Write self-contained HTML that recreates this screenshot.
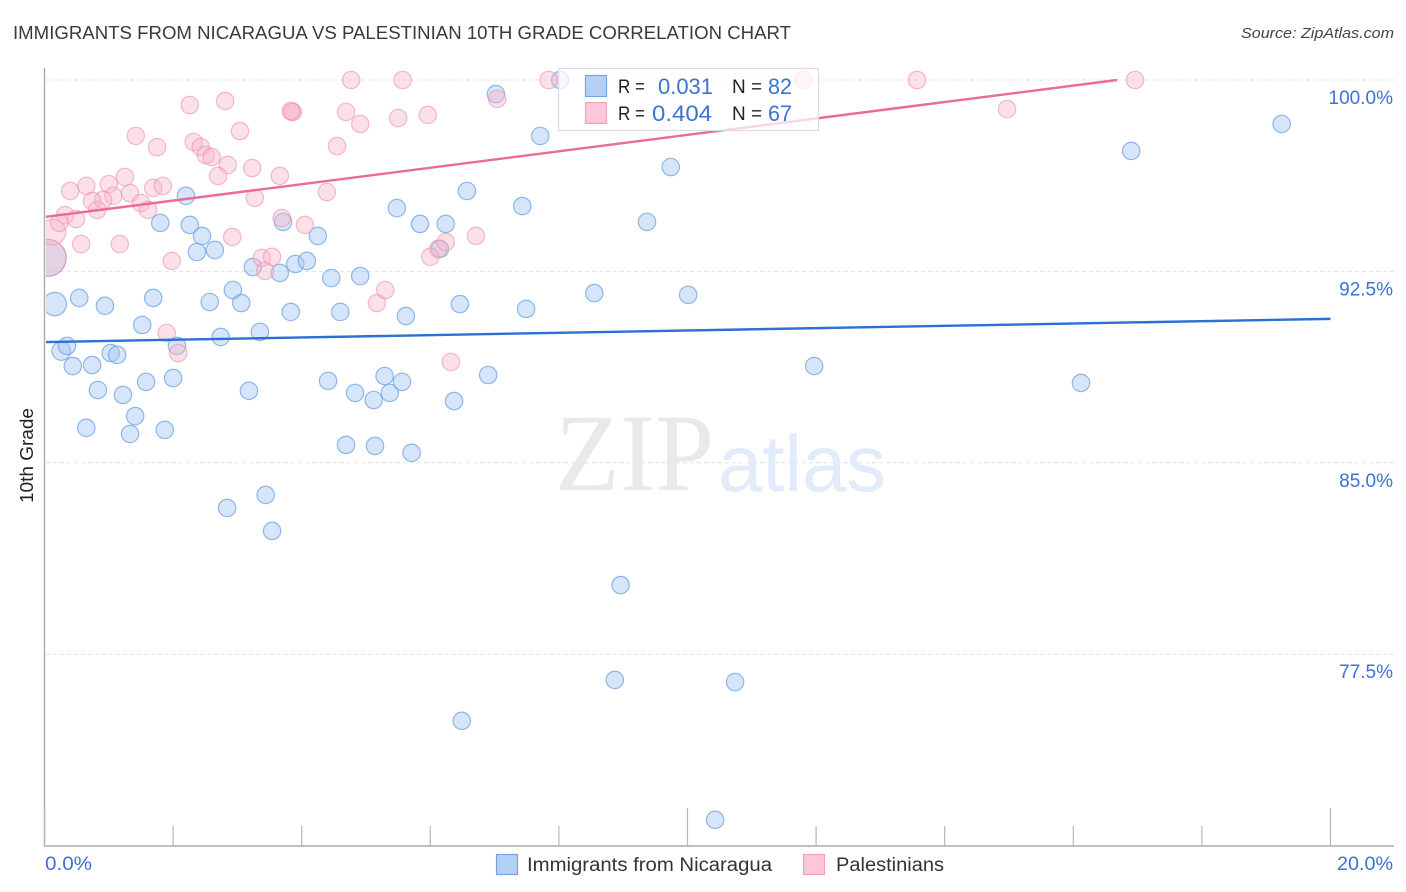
<!DOCTYPE html>
<html>
<head>
<meta charset="utf-8">
<title>Immigrants from Nicaragua vs Palestinian 10th Grade Correlation Chart</title>
<style>
html,body{margin:0;padding:0;background:#fff;width:1406px;height:892px;overflow:hidden}
svg{display:block}
text{font-family:"Liberation Sans",sans-serif}
</style>
</head>
<body>
<svg id="chart" width="1406" height="892" viewBox="0 0 1406 892" xmlns="http://www.w3.org/2000/svg">
  <defs><clipPath id="plot-clip"><rect x="46" y="60" width="1360" height="786"/></clipPath></defs>
  <text x="13" y="39" font-size="18.5" fill="#3a3a3a" textLength="778" lengthAdjust="spacingAndGlyphs">IMMIGRANTS FROM NICARAGUA VS PALESTINIAN 10TH GRADE CORRELATION CHART</text>
  <text x="1241" y="38" font-size="15" font-style="italic" fill="#444" textLength="153" lengthAdjust="spacingAndGlyphs">Source: ZipAtlas.com</text>
  <g id="grid"></g>
  <g>
    <text x="555" y="490" font-size="110" fill="#e9e9e9" textLength="159" lengthAdjust="spacingAndGlyphs" style="font-family:'Liberation Serif',serif">ZIP</text>
    <text x="718" y="491" font-size="80" fill="#e2ebf9" textLength="168" lengthAdjust="spacingAndGlyphs">atlas</text>
  </g>
  <g id="axes"></g>
  <g id="points" clip-path="url(#plot-clip)"></g>
  <g id="trends" clip-path="url(#plot-clip)"></g>
  <g>
    <rect x="558.5" y="68.5" width="260" height="62" fill="#fff" fill-opacity="0.72" stroke="#dcdcdc" stroke-width="1.2"/>
    <rect x="585.5" y="75.5" width="21" height="21" fill="#b5d0f5" stroke="#74a3e3" stroke-width="1.2"/>
    <rect x="585.5" y="102.5" width="21" height="21" fill="#fcc8d8" stroke="#f2a0bb" stroke-width="1.2"/>
    <text x="618" y="93" font-size="19" fill="#222" textLength="27" lengthAdjust="spacingAndGlyphs">R =</text>
    <text x="658" y="94" font-size="22" fill="#3b72d4" textLength="55" lengthAdjust="spacingAndGlyphs">0.031</text>
    <text x="732" y="93" font-size="19" fill="#222">N =</text>
    <text x="768" y="94" font-size="22" fill="#3b72d4" textLength="24" lengthAdjust="spacingAndGlyphs">82</text>
    <text x="618" y="120" font-size="19" fill="#222" textLength="27" lengthAdjust="spacingAndGlyphs">R =</text>
    <text x="652" y="121" font-size="22" fill="#3b72d4" textLength="60" lengthAdjust="spacingAndGlyphs">0.404</text>
    <text x="732" y="120" font-size="19" fill="#222">N =</text>
    <text x="768" y="121" font-size="22" fill="#3b72d4" textLength="24" lengthAdjust="spacingAndGlyphs">67</text>
  </g>
  <text transform="translate(33,455.5) rotate(-90)" font-size="18.5" fill="#222" text-anchor="middle" textLength="95" lengthAdjust="spacingAndGlyphs">10th Grade</text>
  <g>
    <g>
      <rect x="496.5" y="854.5" width="21" height="20" fill="#b5d0f5" stroke="#74a3e3" stroke-width="1.2"/>
      <text x="527" y="871" font-size="19" fill="#333" textLength="245" lengthAdjust="spacingAndGlyphs">Immigrants from Nicaragua</text>
    </g>
    <g>
      <rect x="803.5" y="854.5" width="21" height="20" fill="#fcc8d8" stroke="#f2a0bb" stroke-width="1.2"/>
      <text x="836" y="871" font-size="19" fill="#333" textLength="108" lengthAdjust="spacingAndGlyphs">Palestinians</text>
    </g>
  </g>
</svg>
<script>
const yTickValues = [100, 92.5, 85, 77.5];
const yTickLabels = ["100.0%", "92.5%", "85.0%", "77.5%"];
const xTickValues = [0, 2, 4, 6, 8, 10, 12, 14, 16, 18, 20];
const xMajorTicks = [0, 10, 20];
const xEndLabels = ["0.0%", "20.0%"];

const blueX = [0.05,0.16,0.26,0.35,0.44,0.54,0.74,0.83,0.65,0.94,1.03,1.13,1.22,1.41,1.33,1.52,1.58,1.69,1.80,1.87,2.00,2.06,2.20,2.26,2.37,2.45,2.65,2.57,2.74,2.93,3.06,3.18,3.24,3.35,3.66,3.71,3.83,3.90,4.08,4.25,4.46,4.41,4.60,4.69,4.83,4.91,5.12,5.14,5.29,5.37,5.56,5.48,5.62,5.71,5.84,6.24,6.15,6.37,6.46,6.57,6.90,7.02,7.43,7.49,7.71,8.55,8.02,9.37,9.74,10.01,11.97,16.12,16.90,19.24,2.84,3.44,3.54,8.96,8.87,10.74,6.49,10.43];
const blueY = [93.03,91.22,89.38,89.58,88.79,91.46,88.83,87.85,86.37,91.15,89.30,89.23,87.66,86.83,86.13,90.40,88.17,91.46,94.40,86.29,88.32,89.58,95.46,94.32,93.26,93.89,93.34,91.30,89.93,91.77,91.26,87.82,92.67,90.13,92.44,94.44,90.91,92.79,92.91,93.89,92.24,88.21,90.91,85.70,87.74,92.32,87.46,85.66,88.40,87.74,88.17,94.98,90.75,85.39,94.36,94.36,93.38,87.42,91.22,95.65,88.44,99.45,95.06,91.03,97.81,91.65,100,94.44,96.59,91.58,88.79,88.13,97.22,98.28,83.23,83.74,82.33,80.21,76.49,76.41,74.89,71.01];
const blueWeights = [4.5, 1.8, 1.15];

const pinkX = [0.05,0.13,4.77,5.57,7.84,11.80,13.57,16.96,14.97,2.26,2.81,3.85,3.86,3.83,4.69,4.91,5.50,5.96,7.04,1.42,1.75,3.04,2.32,2.43,2.51,2.60,2.85,2.70,3.23,3.66,4.55,1.25,0.65,1.00,0.40,1.69,1.84,1.33,1.07,0.91,0.74,0.82,1.50,1.61,3.27,4.39,0.32,0.49,0.23,0.57,1.17,1.98,2.92,3.69,4.05,3.38,3.54,3.43,1.90,2.08,5.17,5.30,6.12,6.24,6.00,6.71,6.32];
const pinkY = [93.03,94.04,100,100,100,100,100,100,98.86,99.02,99.18,98.75,98.75,98.79,98.75,98.28,98.51,98.63,99.26,97.81,97.37,98.00,97.57,97.37,97.06,96.98,96.67,96.24,96.55,96.24,97.41,96.20,95.85,95.92,95.65,95.77,95.85,95.57,95.46,95.30,95.26,94.91,95.18,94.91,95.38,95.61,94.71,94.55,94.40,93.57,93.57,92.91,93.85,94.59,94.32,93.03,93.07,92.52,90.09,89.30,91.26,91.77,93.38,93.65,93.07,93.89,88.95];
const pinkWeights = [4.5, 2.2];

const blueTrendX = [0, 20];
const blueTrendY = [89.73, 90.64];
const pinkTrendX = [0, 16.68];
const pinkTrendY = [94.63, 100];

const NS = "http://www.w3.org/2000/svg";
function xScale(v){ return 44.5 + v * 64.3; }
function yScale(v){ return 80 + (100 - v) * 25.52; }
function radius(w){ return 8.7 * Math.sqrt(w || 1); }
function make(tag, attrs, parent){
  const el = document.createElementNS(NS, tag);
  for (const k in attrs) el.setAttribute(k, attrs[k]);
  parent.appendChild(el);
  return el;
}

const grid = document.getElementById("grid");
const axes = document.getElementById("axes");
const pointsLayer = document.getElementById("points");
const trends = document.getElementById("trends");

yTickValues.forEach(function(v, i){
  const y = yScale(v);
  const line = make("line", {x1: 46, x2: 1394, y1: y, y2: y, stroke: "#e2e2e2", "stroke-width": 1, "stroke-dasharray": "4 3"}, grid);
  
  
  const label = make("text", {x: 1393, y: y + 24, "font-size": 19, fill: "#3b72d4", "text-anchor": "end"}, axes);
  
  
  label.textContent = yTickLabels[i];
});

const yAxis = make("line", {x1: 44.5, x2: 44.5, y1: 68, y2: 846, stroke: "#aaa", "stroke-width": 1.4}, axes);


const xAxis = make("line", {x1: 44, x2: 1394, y1: 846, y2: 846, stroke: "#aaa", "stroke-width": 1.4}, axes);



xTickValues.forEach(function(v){
  const x = xScale(v);
  const top = xMajorTicks.indexOf(v) >= 0 ? 808 : 826;
  const tick = make("line", {x1: x, x2: x, y1: top, y2: 846, stroke: "#b5b5b5", "stroke-width": 1.2}, axes);
  
  
});

const xLabelLeft = make("text", {x: 45, y: 870, "font-size": 19, fill: "#3b72d4", textLength: 47, lengthAdjust: "spacingAndGlyphs"}, axes);


xLabelLeft.textContent = xEndLabels[0];
const xLabelRight = make("text", {x: 1337, y: 870, "font-size": 19, fill: "#3b72d4", textLength: 56, lengthAdjust: "spacingAndGlyphs"}, axes);


xLabelRight.textContent = xEndLabels[1];

blueX.forEach(function(v, i){
  const c = make("circle", {cx: xScale(v), cy: yScale(blueY[i]), r: radius(blueWeights[i]), fill: "#a9c9f2", "fill-opacity": 0.48, stroke: "#6a9fe0", "stroke-opacity": 0.72, "stroke-width": 1.2}, pointsLayer);
  
  
});
pinkX.forEach(function(v, i){
  const c = make("circle", {cx: xScale(v), cy: yScale(pinkY[i]), r: radius(pinkWeights[i]), fill: "#f9b4c9", "fill-opacity": 0.42, stroke: "#ee8fae", "stroke-opacity": 0.6, "stroke-width": 1.2}, pointsLayer);
  
  
});

const blueTrend = make("line", {x1: xScale(blueTrendX[0]), y1: yScale(blueTrendY[0]), x2: xScale(blueTrendX[1]), y2: yScale(blueTrendY[1]), stroke: "#2a70d6", "stroke-width": 2.4}, trends);


const pinkTrend = make("line", {x1: xScale(pinkTrendX[0]), y1: yScale(pinkTrendY[0]), x2: xScale(pinkTrendX[1]), y2: yScale(pinkTrendY[1]), stroke: "#ec6a98", "stroke-width": 2.4}, trends);


</script>
</body>
</html>
